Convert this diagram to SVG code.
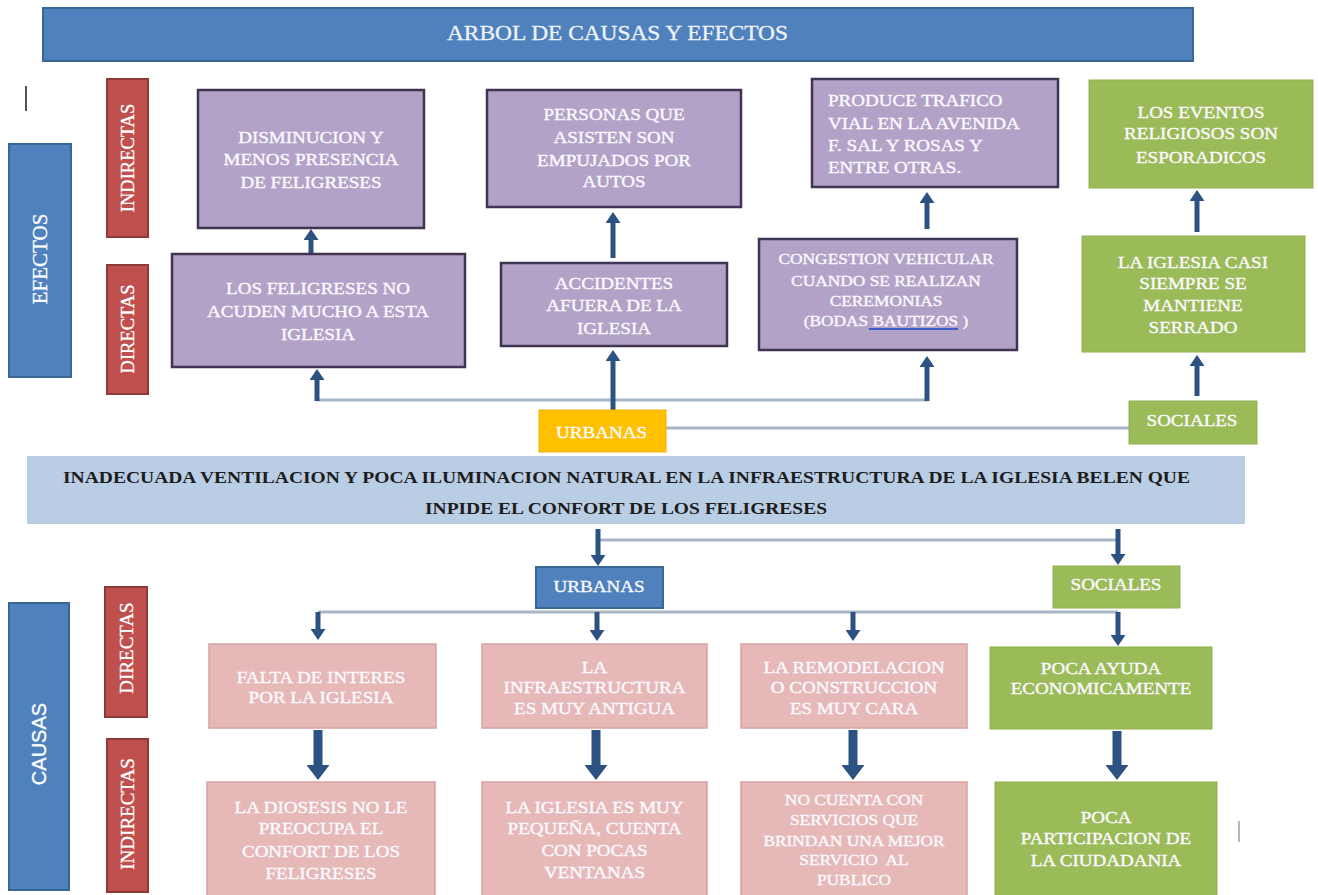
<svg xmlns="http://www.w3.org/2000/svg" width="1318" height="895" viewBox="0 0 1318 895">
<style>
text{font-family:"Liberation Serif","Times New Roman",serif}
.bg{fill:#ffffff}
.blue{fill:#4f81bd;stroke:#3a6696;stroke-width:2}
.red{fill:#c0504d;stroke:#8e3a37;stroke-width:2}
.pur{fill:#b3a2c7;stroke:#3f3452;stroke-width:2.5}
.grn{fill:#9bbb59;stroke:#8fb04f;stroke-width:1}
.pnk{fill:#e6b9b8;stroke:#d8a2a2;stroke-width:1.5}
.org{fill:#ffc000;stroke:#f2b400;stroke-width:1}
.band{fill:#b9cde5}
.w{fill:#fbfaff;stroke:#fbfaff;stroke-width:0.35px;font-size:17px;text-anchor:middle}
.ws{font-size:15.5px}
.ls{text-anchor:start}
.rot{fill:#ffffff;stroke:#ffffff;stroke-width:0.3px;text-anchor:middle}
.bt{fill:#1c1c1c;font-weight:bold;font-size:17px;text-anchor:middle}
.ln{stroke:#a9b6c6;stroke-width:3;fill:none}
.ar{stroke:#2b5283;stroke-width:5;fill:none}
.arb{stroke:#2b5283;stroke-width:9;fill:none}
.mk{fill:#2b5283}
</style>
<defs>
<marker id="hs" markerUnits="userSpaceOnUse" markerWidth="11" markerHeight="15" refX="0" refY="7.5" orient="auto" viewBox="0 0 11 15"><path class="mk" d="M0,0 L11,7.5 L0,15 Z"/></marker>
<marker id="hb" markerUnits="userSpaceOnUse" markerWidth="15" markerHeight="23" refX="0" refY="11.5" orient="auto" viewBox="0 0 15 23"><path class="mk" d="M0,0 L15,11.5 L0,23 Z"/></marker>
</defs>
<rect class="bg" x="0" y="0" width="1318" height="895"/>

<g id="connectors">
<line class="ln" x1="317" y1="400" x2="927" y2="400"/>
<line class="ln" x1="665" y1="428" x2="1130" y2="428"/>
<line class="ln" x1="598" y1="540" x2="1118" y2="540"/>
<line class="ln" x1="318" y1="612" x2="1118" y2="612"/>
<line class="ar" x1="311" y1="253" x2="311" y2="240" marker-end="url(#hs)"/>
<line class="ar" x1="317" y1="401" x2="317" y2="380" marker-end="url(#hs)"/>
<line class="ar" x1="613" y1="258" x2="613" y2="223" marker-end="url(#hs)"/>
<line class="ar" x1="613" y1="410" x2="613" y2="361" marker-end="url(#hs)"/>
<line class="ar" x1="927" y1="229" x2="927" y2="203" marker-end="url(#hs)"/>
<line class="ar" x1="927" y1="401" x2="927" y2="367" marker-end="url(#hs)"/>
<line class="ar" x1="1197" y1="232" x2="1197" y2="201" marker-end="url(#hs)"/>
<line class="ar" x1="1197" y1="396" x2="1197" y2="366" marker-end="url(#hs)"/>
<line class="ar" x1="598" y1="529" x2="598" y2="555" marker-end="url(#hs)"/>
<line class="ar" x1="1118" y1="529" x2="1118" y2="554" marker-end="url(#hs)"/>
<line class="ar" x1="318" y1="612" x2="318" y2="629" marker-end="url(#hs)"/>
<line class="ar" x1="597" y1="612" x2="597" y2="630" marker-end="url(#hs)"/>
<line class="ar" x1="853" y1="612" x2="853" y2="630" marker-end="url(#hs)"/>
<line class="ar" x1="1118" y1="612" x2="1118" y2="635" marker-end="url(#hs)"/>
<line class="arb" x1="318" y1="730" x2="318" y2="765" marker-end="url(#hb)"/>
<line class="arb" x1="596" y1="730" x2="596" y2="765" marker-end="url(#hb)"/>
<line class="arb" x1="853" y1="730" x2="853" y2="765" marker-end="url(#hb)"/>
<line class="arb" x1="1117" y1="731" x2="1117" y2="765" marker-end="url(#hb)"/>
</g>

<g id="marks">
<line x1="26" y1="86" x2="26" y2="111" stroke="#555555" stroke-width="2"/>
<line x1="1239" y1="821" x2="1239" y2="842" stroke="#b8b8b8" stroke-width="2"/>
</g>

<g id="title">
<rect class="blue" x="43" y="8" width="1150" height="53"/>
<text x="617.5" y="40" font-size="21" fill="#eef3fa" stroke="#eef3fa" stroke-width="0.3" text-anchor="middle" textLength="341" lengthAdjust="spacingAndGlyphs">ARBOL DE CAUSAS Y EFECTOS</text>
</g>

<g id="efectos">
<rect class="blue" x="9" y="144" width="62" height="233"/>
<text class="rot" font-size="21" transform="translate(47 259) rotate(-90)" x="0" y="0">EFECTOS</text>
</g>
<g id="ef-indirectas">
<rect class="red" x="107" y="79" width="41" height="158"/>
<text class="rot" font-size="18.5" transform="translate(134 158) rotate(-90)" x="0" y="0">INDIRECTAS</text>
</g>
<g id="ef-directas">
<rect class="red" x="107" y="265" width="41" height="129"/>
<text class="rot" font-size="18.5" transform="translate(134 329) rotate(-90)" x="0" y="0">DIRECTAS</text>
</g>

<g id="e-disminucion">
<rect class="pur" x="198" y="90" width="226" height="138"/>
<text class="w" transform="translate(311 0) scale(1.12 1)"><tspan x="0" y="143">DISMINUCION Y</tspan><tspan x="0" y="165">MENOS PRESENCIA</tspan><tspan x="0" y="188">DE FELIGRESES</tspan></text>
</g>
<g id="e-feligreses">
<rect class="pur" x="172" y="254" width="293" height="113"/>
<text class="w" transform="translate(318 0) scale(1.12 1)"><tspan x="0" y="294">LOS FELIGRESES NO</tspan><tspan x="0" y="317">ACUDEN MUCHO A ESTA</tspan><tspan x="0" y="340">IGLESIA</tspan></text>
</g>
<g id="e-personas">
<rect class="pur" x="487" y="90" width="254" height="117"/>
<text class="w" transform="translate(614 0) scale(1.12 1)"><tspan x="0" y="120">PERSONAS QUE</tspan><tspan x="0" y="143">ASISTEN SON</tspan><tspan x="0" y="166">EMPUJADOS POR</tspan><tspan x="0" y="187">AUTOS</tspan></text>
</g>
<g id="e-accidentes">
<rect class="pur" x="501" y="263" width="226" height="83"/>
<text class="w" transform="translate(614 0) scale(1.12 1)"><tspan x="0" y="289">ACCIDENTES</tspan><tspan x="0" y="311">AFUERA DE LA</tspan><tspan x="0" y="334">IGLESIA</tspan></text>
</g>
<g id="e-trafico">
<rect class="pur" x="812" y="79" width="246" height="108"/>
<text class="w ls" transform="translate(828 0) scale(1.12 1)"><tspan x="0" y="106">PRODUCE TRAFICO</tspan><tspan x="0" y="129">VIAL EN LA AVENIDA</tspan><tspan x="0" y="151">F. SAL Y ROSAS Y</tspan><tspan x="0" y="173">ENTRE OTRAS.</tspan></text>
</g>
<g id="e-congestion">
<rect class="pur" x="759" y="239" width="258" height="111"/>
<text class="w ws" transform="translate(886 0) scale(1.12 1)"><tspan x="0" y="264">CONGESTION VEHICULAR</tspan><tspan x="0" y="286">CUANDO SE REALIZAN</tspan><tspan x="0" y="306">CEREMONIAS</tspan><tspan x="0" y="326">(BODAS BAUTIZOS )</tspan></text>
<line x1="869" y1="329" x2="958" y2="329" stroke="#3f5bc4" stroke-width="2"/>
</g>
<g id="e-eventos">
<rect class="grn" x="1089" y="80" width="224" height="108"/>
<text class="w" transform="translate(1201 0) scale(1.12 1)"><tspan x="0" y="118">LOS EVENTOS</tspan><tspan x="0" y="139">RELIGIOSOS SON</tspan><tspan x="0" y="163">ESPORADICOS</tspan></text>
</g>
<g id="e-cerrado">
<rect class="grn" x="1082" y="236" width="223" height="116"/>
<text class="w" transform="translate(1193 0) scale(1.12 1)"><tspan x="0" y="268">LA IGLESIA CASI</tspan><tspan x="0" y="289">SIEMPRE SE</tspan><tspan x="0" y="311">MANTIENE</tspan><tspan x="0" y="333">SERRADO</tspan></text>
</g>
<g id="e-urbanas">
<rect class="org" x="539" y="410" width="127" height="42"/>
<text class="w" transform="translate(601.5 0) scale(1.12 1)"><tspan x="0" y="438">URBANAS</tspan></text>
</g>
<g id="e-sociales">
<rect class="grn" x="1129" y="401" width="128" height="43"/>
<text class="w" transform="translate(1192 0) scale(1.12 1)"><tspan x="0" y="426">SOCIALES</tspan></text>
</g>

<g id="problema">
<rect class="band" x="27" y="456" width="1218" height="68"/>
<text class="bt" x="626.5" y="483" textLength="1127" lengthAdjust="spacingAndGlyphs">INADECUADA VENTILACION Y POCA ILUMINACION NATURAL EN LA INFRAESTRUCTURA DE LA IGLESIA BELEN QUE</text>
<text class="bt" x="626" y="514" textLength="402" lengthAdjust="spacingAndGlyphs">INPIDE EL CONFORT DE LOS FELIGRESES</text>
</g>

<g id="c-urbanas">
<rect class="blue" x="536" y="567" width="127" height="41"/>
<text class="w" transform="translate(599 0) scale(1.12 1)"><tspan x="0" y="592">URBANAS</tspan></text>
</g>
<g id="c-sociales">
<rect class="grn" x="1053" y="566" width="127" height="42"/>
<text class="w" transform="translate(1116 0) scale(1.12 1)"><tspan x="0" y="590">SOCIALES</tspan></text>
</g>

<g id="causas">
<rect class="blue" x="9" y="603" width="60" height="287"/>
<text class="rot" font-size="20" style="font-family:'Liberation Sans',Arial,sans-serif" transform="translate(46 744) rotate(-90)" x="0" y="0">CAUSAS</text>
</g>
<g id="ca-directas">
<rect class="red" x="105" y="587" width="42" height="130"/>
<text class="rot" font-size="19" transform="translate(133 648) rotate(-90)" x="0" y="0">DIRECTAS</text>
</g>
<g id="ca-indirectas">
<rect class="red" x="107" y="739" width="41" height="153"/>
<text class="rot" font-size="19" transform="translate(134 814) rotate(-90)" x="0" y="0">INDIRECTAS</text>
</g>

<g id="c-interes">
<rect class="pnk" x="209" y="644" width="227" height="84"/>
<text class="w" transform="translate(321 0) scale(1.12 1)"><tspan x="0" y="683">FALTA DE INTERES</tspan><tspan x="0" y="703">POR LA IGLESIA</tspan></text>
</g>
<g id="c-antigua">
<rect class="pnk" x="482" y="644" width="225" height="84"/>
<text class="w" transform="translate(594.5 0) scale(1.12 1)"><tspan x="0" y="673">LA</tspan><tspan x="0" y="693">INFRAESTRUCTURA</tspan><tspan x="0" y="714">ES MUY ANTIGUA</tspan></text>
</g>
<g id="c-cara">
<rect class="pnk" x="741" y="644" width="226" height="84"/>
<text class="w" transform="translate(854 0) scale(1.12 1)"><tspan x="0" y="673">LA REMODELACION</tspan><tspan x="0" y="693">O CONSTRUCCION</tspan><tspan x="0" y="714">ES MUY CARA</tspan></text>
</g>
<g id="c-ayuda">
<rect class="grn" x="990" y="647" width="222" height="82"/>
<text class="w" transform="translate(1101 0) scale(1.12 1)"><tspan x="0" y="674">POCA AYUDA</tspan><tspan x="0" y="694">ECONOMICAMENTE</tspan></text>
</g>

<g id="c-diosesis">
<rect class="pnk" x="207" y="782" width="228" height="120"/>
<text class="w" transform="translate(321 0) scale(1.12 1)"><tspan x="0" y="813">LA DIOSESIS NO LE</tspan><tspan x="0" y="834">PREOCUPA EL</tspan><tspan x="0" y="857">CONFORT DE LOS</tspan><tspan x="0" y="879">FELIGRESES</tspan></text>
</g>
<g id="c-pequena">
<rect class="pnk" x="482" y="782" width="225" height="120"/>
<text class="w" transform="translate(594.5 0) scale(1.12 1)"><tspan x="0" y="813">LA IGLESIA ES MUY</tspan><tspan x="0" y="834">PEQUEÑA, CUENTA</tspan><tspan x="0" y="856">CON POCAS</tspan><tspan x="0" y="878">VENTANAS</tspan></text>
</g>
<g id="c-servicios">
<rect class="pnk" x="741" y="782" width="226" height="120"/>
<text class="w ws" xml:space="preserve" transform="translate(854 0) scale(1.12 1)"><tspan x="0" y="805">NO CUENTA CON</tspan><tspan x="0" y="825">SERVICIOS QUE</tspan><tspan x="0" y="846">BRINDAN UNA MEJOR</tspan><tspan x="0" y="865">SERVICIO  AL</tspan><tspan x="0" y="885">PUBLICO</tspan></text>
</g>
<g id="c-participacion">
<rect class="grn" x="995" y="782" width="222" height="120"/>
<text class="w" transform="translate(1106 0) scale(1.12 1)"><tspan x="0" y="823">POCA</tspan><tspan x="0" y="844">PARTICIPACION DE</tspan><tspan x="0" y="866">LA CIUDADANIA</tspan></text>
</g>
</svg>
